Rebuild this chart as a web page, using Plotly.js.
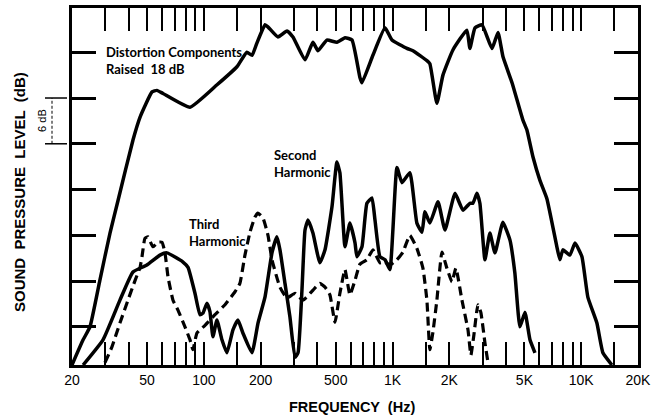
<!DOCTYPE html>
<html>
<head>
<meta charset="utf-8">
<script src="https://cdn.plot.ly/plotly-3.0.1.min.js"></script>
<style>html,body{margin:0;padding:0;background:#fff;}#chart{width:662px;height:420px;}</style>
</head>
<body>
<div id="chart"></div>
<script>
// Fundamental response (distortion components raised 18 dB reference curve)
const topFreq = [20, 22.9, 24.9, 28.1, 31.8, 35.1, 42.1, 45.9, 53.1, 56.4, 60.7, 84.4, 117, 149.7, 169, 180, 191, 211, 219, 247, 275.6, 296.6, 343.6, 378.5, 402.7, 449, 507, 560, 609.8, 671.5, 688.6, 787, 912, 993, 1192, 1283, 1521, 1577, 1718, 1850, 2089, 2478, 2571, 2735, 2980, 3366, 3623, 3850, 4299, 4910, 5155, 5548, 6042, 6578, 7430, 7709, 8000, 8710, 9268, 10090, 10845, 12110, 13030, 14550];
const topDb = [0, 3.3, 5.0, 11.1, 17.3, 21.6, 29.5, 32.5, 35.8, 36.0, 35.6, 33.8, 36.7, 39.1, 41.0, 40.6, 42.2, 44.6, 44.3, 43.0, 43.8, 43.0, 40.0, 42.3, 41.2, 42.6, 42.3, 42.9, 42.6, 37.7, 37.0, 40.6, 44.2, 42.6, 41.5, 41.2, 39.9, 39.5, 34.3, 38.0, 41.3, 43.9, 41.5, 44.2, 44.6, 41.5, 43.6, 40.4, 37.0, 32.1, 30.8, 27.3, 24.2, 21.8, 15.5, 13.8, 15.1, 14.4, 16.0, 14.2, 8.9, 5.5, 1.6, 0];

// Second harmonic
const secondFreq = [22.9, 29.2, 35.9, 42.1, 49.9, 58.5, 63.7, 77.5, 82.4, 89.7, 95.3, 98.9, 103.8, 107.7, 111.7, 117.3, 124.7, 132.5, 142.6, 151.6, 161, 179.9, 193.6, 210.8, 229.6, 243.9, 253.1, 269.1, 285.9, 304, 315.5, 331, 343.6, 356.5, 378.5, 412, 438.6, 477.4, 507, 526, 559.6, 594.4, 632.5, 647.4, 688.6, 731.4, 777.9, 807.1, 857.5, 912, 968.3, 1055, 1122, 1236, 1346, 1432, 1485, 1577, 1742, 1896, 2143, 2362, 2571, 2667, 2800, 2904, 3089, 3281, 3491, 3845, 4189, 4449, 4731, 5035, 5350, 5688];
const secondDb = [0, 3.3, 8.5, 12.2, 13.1, 14.4, 14.7, 13.5, 12.8, 9.4, 6.6, 6.8, 8.1, 7.0, 3.7, 5.9, 3.3, 1.6, 4.6, 5.9, 4.2, 1.6, 5.5, 8.9, 14.7, 16.8, 15.1, 10.7, 6.3, 1.0, 1.6, 9.8, 17.7, 19.0, 17.3, 13.4, 15.1, 20.7, 26.6, 25.2, 15.5, 18.6, 16.0, 14.2, 15.5, 21.2, 21.9, 19.0, 14.2, 13.8, 12.5, 25.9, 23.9, 25.2, 18.6, 17.4, 20.1, 18.6, 21.4, 17.7, 22.5, 20.3, 21.2, 21.2, 22.5, 21.2, 13.8, 17.3, 14.7, 18.7, 16.4, 12.1, 5.0, 6.9, 3.3, 1.6];

// Third harmonic
const thirdFreq = [29.9, 32.6, 35.9, 39.6, 43.2, 45.9, 47.0, 48.7, 50.5, 53.7, 57.1, 60.0, 62.2, 64.6, 68.6, 72.9, 79.4, 84.4, 87.5, 91.9, 101.4, 114.5, 129.4, 146.2, 155.2, 165.1, 175.5, 186.6, 193.6, 205.6, 218.7, 229.6, 253.1, 275.6, 304, 334.9, 378.5, 412, 438.6, 465.6, 495.3, 526, 559.6, 594.4, 632.5, 671.5, 731.4, 787, 857.5, 912, 968.3, 1055, 1135, 1236, 1346, 1449, 1521, 1577, 1637, 1718, 1828, 1941, 2065, 2167, 2333, 2512, 2602, 2698, 2835, 2938, 3089, 3206];
const thirdDb = [0.3, 2.4, 5.5, 8.5, 11.1, 12.8, 14.2, 16.6, 16.8, 15.5, 16.1, 16.1, 14.7, 11.5, 8.5, 7.2, 5.0, 3.3, 2.0, 4.2, 5.2, 6.6, 7.9, 9.6, 10.7, 14.4, 17.4, 19.4, 19.9, 19.3, 17.0, 13.8, 10.2, 8.8, 9.4, 8.5, 9.8, 10.7, 10.2, 9.2, 5.6, 9.4, 12.5, 9.2, 11.1, 13.2, 13.8, 15.1, 13.4, 13.5, 13.1, 13.8, 14.8, 17.0, 15.3, 12.7, 8.5, 2.0, 4.3, 8.5, 14.8, 12.7, 10.9, 12.7, 8.5, 4.6, 1.3, 3.9, 7.9, 6.9, 2.9, 0.3];

// Axis ticks
const xTickVals = [20, 30, 40, 50, 60, 70, 80, 90, 100, 150, 200, 300, 400, 500, 600, 700, 800, 900, 1000, 1500, 2000, 3000, 4000, 5000, 6000, 7000, 8000, 9000, 10000, 15000, 20000];
const xTickText = ['20', '', '', '50', '', '', '', '', '100', '', '200', '', '', '500', '', '', '', '', '1K', '', '2K', '', '', '5K', '', '', '', '', '10K', '', '20K'];
const yTickVals = [5, 11, 17, 23, 29, 35, 41];

const W = 662, H = 420;
const L = 72, R = 24, T = 8, B = 55;
const pw = W - L - R, ph = H - T - B;
const px = x => (x - L) / pw;
const py = y => (H - B - y) / ph;

const lineShape = {shape: 'spline', smoothing: 0.4};

const traces = [
  {x: topFreq, y: topDb, mode: 'lines', line: Object.assign({color: '#000', width: 3.5}, lineShape), hoverinfo: 'skip'},
  {x: secondFreq, y: secondDb, mode: 'lines', line: Object.assign({color: '#000', width: 3.5}, lineShape), hoverinfo: 'skip'},
  {x: thirdFreq, y: thirdDb, mode: 'lines', line: Object.assign({color: '#000', width: 3.2, dash: '9px,5px'}, lineShape), hoverinfo: 'skip'}
];

const labelFont = {family: 'Lato, "Open Sans", sans-serif', size: 13, color: '#000', weight: 'bold'};

const layout = {
  width: W, height: H,
  margin: {l: L, r: R, t: T, b: B},
  paper_bgcolor: '#fff', plot_bgcolor: '#fff',
  showlegend: false,
  xaxis: {
    type: 'log', range: [Math.log10(20), Math.log10(20000)],
    tickmode: 'array', tickvals: xTickVals, ticktext: xTickText,
    ticks: 'inside', ticklen: 23, tickwidth: 2, tickcolor: '#000',
    showline: true, linewidth: 3, linecolor: '#000', mirror: 'ticks',
    showgrid: false, zeroline: false,
    tickfont: {family: '"Liberation Sans", Arial, sans-serif', size: 14, color: '#000'}
  },
  yaxis: {
    range: [0, 46.8],
    tickmode: 'array', tickvals: yTickVals, showticklabels: false,
    ticks: 'inside', ticklen: 24, tickwidth: 3, tickcolor: '#000',
    showline: true, linewidth: 3, linecolor: '#000', mirror: 'ticks',
    showgrid: false, zeroline: false
  },
  annotations: [
    {xref: 'paper', yref: 'paper', x: px(104), y: py(42), xanchor: 'left', yanchor: 'top', align: 'left',
     text: 'Distortion Components<br>Raised  18 dB', showarrow: false, font: labelFont},
    {xref: 'paper', yref: 'paper', x: px(272), y: py(145), xanchor: 'left', yanchor: 'top', align: 'left',
     text: 'Second<br>Harmonic', showarrow: false, font: labelFont},
    {xref: 'paper', yref: 'paper', x: px(187), y: py(214), xanchor: 'left', yanchor: 'top', align: 'left',
     text: 'Third<br>Harmonic', showarrow: false, font: labelFont},
    {xref: 'paper', yref: 'paper', x: px(352), y: py(407), xanchor: 'center', yanchor: 'middle',
     text: 'FREQUENCY  (Hz)', showarrow: false,
     font: {family: '"Liberation Sans", Arial, sans-serif', size: 14.5, color: '#000', weight: 'bold'}},
    {xref: 'paper', yref: 'paper', x: px(20), y: py(192), xanchor: 'center', yanchor: 'middle', textangle: -90,
     text: 'SOUND  PRESSURE  LEVEL  (dB)', showarrow: false,
     font: {family: '"Liberation Sans", Arial, sans-serif', size: 15, color: '#000', weight: 'bold'}},
    {xref: 'paper', yref: 'y', x: px(42), y: 32, xanchor: 'center', yanchor: 'middle', textangle: -90,
     text: '6 dB', showarrow: false,
     font: {family: '"Liberation Sans", Arial, sans-serif', size: 11, color: '#000'}}
  ],
  shapes: [
    {type: 'line', xref: 'paper', yref: 'y', x0: px(45), x1: px(67), y0: 35, y1: 35, line: {color: '#000', width: 1.5}},
    {type: 'line', xref: 'paper', yref: 'y', x0: px(45), x1: px(67), y0: 29, y1: 29, line: {color: '#000', width: 1.5}},
    {type: 'line', xref: 'paper', yref: 'y', x0: px(52), x1: px(52), y0: 29, y1: 35, line: {color: '#000', width: 1, dash: '3px,2px'}}
  ]
};

Plotly.newPlot('chart', traces, layout, {displayModeBar: false, staticPlot: true});
</script>
</body>
</html>
